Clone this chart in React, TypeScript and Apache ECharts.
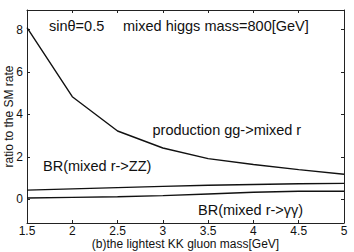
import React, { useEffect, useRef } from "react";
import * as echarts from "echarts";

const masses = [1.5, 2, 2.5, 3, 3.5, 4, 4.5, 5];
const production = [8.1, 4.84, 3.22, 2.42, 1.92, 1.64, 1.4, 1.18];
const brZZ = [0.43, 0.49, 0.55, 0.61, 0.66, 0.7, 0.73, 0.75];
const brGG = [0.06, 0.09, 0.12, 0.17, 0.25, 0.33, 0.38, 0.38];
const yTicks = [0, 2, 4, 6, 8];
const xLabel = "(b)the lightest KK gluon mass[GeV]";
const yLabel = "ratio to the SM rate";

const FONT = "'Liberation Sans', Arial, Helvetica, sans-serif";
const INK = "#111";

export default function App() {
  const ref = useRef<HTMLDivElement>(null);
  useEffect(() => {
    if (!ref.current) return;
    const chart = echarts.init(ref.current, undefined, { renderer: "svg" });
    const pair = (ys: number[]) => masses.map((x, i) => [x, ys[i]]);
    const lineSeries = (name: string, ys: number[]) => ({
      name,
      type: "line",
      data: pair(ys),
      showSymbol: false,
      symbol: "none",
      lineStyle: { color: INK, width: 1.4 },
      silent: true,
    });
    const axisLine = { show: true, onZero: false, lineStyle: { color: "#222", width: 1 } };
    const text = (t: string, x: number, y: number) => ({
      type: "text",
      left: x,
      top: y - 9,
      style: { text: t, fill: INK, font: `14.5px ${FONT}` },
      silent: true,
    });
    chart.setOption({
      animation: false,
      textStyle: { fontFamily: FONT },
      grid: { left: 27, right: 10, top: 10, bottom: 29, containLabel: false, outerBoundsMode: "none" },
      xAxis: [
        {
          type: "value",
          min: 1.5,
          max: 5,
          interval: 0.5,
          axisLine,
          axisTick: { show: true, inside: true, length: 3, lineStyle: { color: "#222" } },
          splitLine: { show: false },
          axisLabel: { color: INK, fontSize: 12, lineHeight: 12, margin: 2, fontFamily: FONT },
          name: xLabel,
          nameLocation: "middle",
          nameGap: 14.5,
          nameMoveOverlap: false,
          nameTextStyle: { color: INK, fontSize: 12, lineHeight: 12, fontFamily: FONT, verticalAlign: "top" },
        },
        {
          type: "value",
          position: "top",
          min: 1.5,
          max: 5,
          interval: 0.5,
          axisLine,
          axisTick: { show: true, inside: true, length: 3, lineStyle: { color: "#222" } },
          splitLine: { show: false },
          axisLabel: { show: false },
        },
      ],
      yAxis: [
        {
          type: "value",
          min: -1.12,
          max: 8.93,
          axisLine,
          axisTick: { show: true, inside: true, length: 3, customValues: yTicks, lineStyle: { color: "#222" } },
          splitLine: { show: false },
          axisLabel: { color: INK, fontSize: 12, margin: 4, customValues: yTicks, fontFamily: FONT },
          name: yLabel,
          nameLocation: "middle",
          nameGap: 12,
          nameMoveOverlap: false,
          nameTextStyle: { color: INK, fontSize: 12, fontFamily: FONT, verticalAlign: "bottom" },
        },
        {
          type: "value",
          position: "right",
          min: -1.12,
          max: 8.93,
          axisLine,
          axisTick: { show: true, inside: true, length: 3, customValues: yTicks, lineStyle: { color: "#222" } },
          splitLine: { show: false },
          axisLabel: { show: false },
        },
      ],
      series: [
        lineSeries("production", production),
        lineSeries("ZZ", brZZ),
        lineSeries("gg", brGG),
      ],
      graphic: [
        text("sinθ=0.5", 49, 27),
        text("mixed higgs mass=800[GeV]", 123, 27),
        text("production gg->mixed r", 152.5, 131.5),
        text("BR(mixed r->ZZ)", 43, 167.5),
        text("BR(mixed r->γγ)", 198, 211),
      ],
    });
    return () => chart.dispose();
  }, []);
  return (
    <div
      ref={ref}
      style={{ position: "fixed", left: 0, top: 0, width: 354, height: 252, background: "#fff" }}
    />
  );
}
